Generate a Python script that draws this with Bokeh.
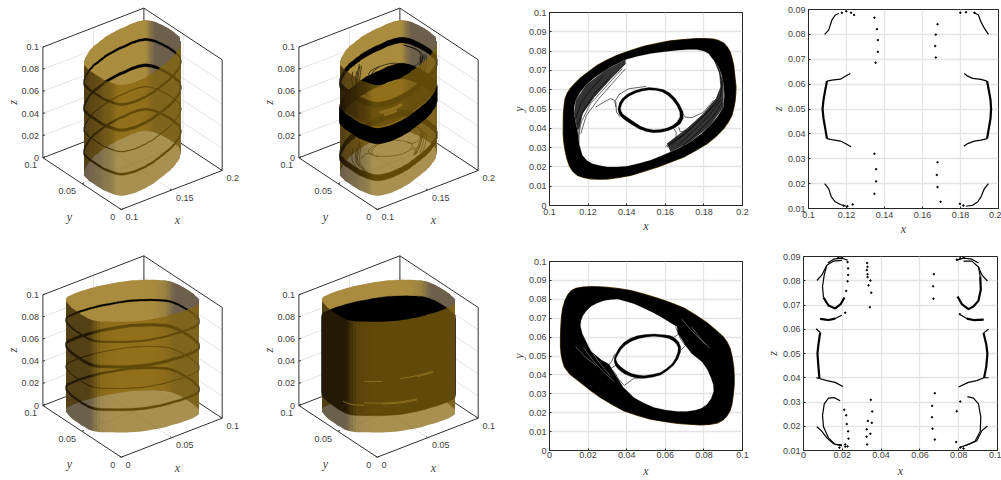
import numpy as np
from bokeh.plotting import figure
from bokeh.layouts import column, row
from bokeh.models import Range1d, FixedTicker
from bokeh.core.properties import value
from bokeh.embed import file_html
from bokeh.resources import INLINE

# ---- contours ----
a_outer_x = [.1071,.1072,.1076,.1081,.1092,.1107,.1133,.1162,.1205,.1248,.1298,.1351,.142,.1489,.1558,.1627,.1695,.1764,.181,.185,.1878,.1902,.1921,.1936,.1946,.1954,.196,.1966,.1965,.1962,.1955,.1945,.1926,.1902,.1862,.1816,.1757,.1696,.1627,.1558,.1489,.142,.136,.13,.1255,.1213,.1177,.1145,.112,.1102,.109,.1081,.1074]
a_outer_y = [.0372,.0476,.0518,.0554,.0581,.0605,.0634,.0662,.0695,.0727,.0754,.0778,.0803,.0825,.084,.0853,.086,.0865,.0865,.0862,.0854,.0842,.0821,.0795,.0762,.0727,.0672,.0615,.058,.0545,.0506,.0467,.0432,.0398,.0357,.032,.0285,.0251,.0225,.0199,.0177,.0156,.0145,.0137,.0136,.0138,.0145,.0156,.0178,.0208,.0245,.0285,.033]
a_hole_x = [.1153,.1145,.1135,.1127,.1128,.1136,.1158,.1188,.1232,.1282,.1335,.1394,.1456,.1523,.1592,.1661,.1715,.1764,.18,.1824,.1852,.1876,.1892,.1902,.1906,.1902,.187,.1833,.1785,.173,.168,.1627,.1575,.1523,.1463,.1403,.135,.1299,.1258,.1222,.1192,.117]
a_hole_y = [.032,.0389,.0432,.0476,.0512,.0545,.0585,.0623,.0662,.0697,.0727,.0756,.0773,.0787,.0797,.0804,.0808,.0808,.08,.0787,.0755,.0718,.0675,.0631,.057,.051,.046,.0415,.0371,.0329,.0302,.0277,.0255,.0234,.0218,.0204,.0199,.0199,.0207,.0216,.0234,.026]
a_fan_x = [[.1145,.1127,.1136,.1188,.1282,.1394,.1394,.1317,.1231,.117,.1153],[.1824,.1876,.1902,.1902,.1833,.173,.1627,.1609,.1713,.1799,.1864,.1888,.1881,.185]]
a_fan_y = [[.0389,.0476,.0545,.0623,.0697,.0756,.0735,.0657,.0562,.0476,.0398],[.0787,.0718,.0631,.051,.0415,.0329,.0277,.032,.0398,.0476,.0554,.0614,.0692,.077]]
a_ring_out_x = [.1355,.1362,.1377,.1403,.1437,.1475,.1515,.1555,.1592,.1625,.1652,.1675,.1692,.1693,.1678,.1652,.1618,.158,.154,.15,.1463,.1428,.1394,.1378,.1365,.1357]
a_ring_out_y = [.0502,.0531,.0554,.0576,.0593,.0605,.0611,.0608,.06,.0581,.0554,.0521,.0484,.0452,.0424,.0404,.0389,.038,.0377,.0384,.0398,.0418,.0441,.0454,.0467,.0485]
a_ring_in_x = [.1368,.1375,.1389,.1414,.1446,.148,.1515,.155,.1583,.1613,.164,.1661,.1675,.1676,.1661,.1638,.1609,.1575,.154,.1505,.1472,.1438,.1406,.1391,.1379,.1371]
a_ring_in_y = [.0502,.0527,.0548,.0568,.0583,.0593,.0599,.0597,.059,.0571,.0545,.0516,.0484,.0458,.0433,.0414,.0401,.0394,.0391,.0398,.041,.0432,.0455,.0465,.0476,.0489]
a_fil_x = [
 [.1153,.1153,.117,.1231,.1317,.1394],[.1145,.1165,.1213,.1299,.1377],[.1162,.1191,.1256,.1325,.1394],
 [.1145,.1179,.1231,.1308],[.1135,.1162,.1205,.1282],[.1239,.1282,.1317,.1337,.1344],
 [.185,.1881,.1888,.1864,.1799,.1713,.1609],[.1855,.1895,.1885,.181,.173,.163],[.189,.183,.175,.166],
 [.1895,.185,.177,.168],[.1865,.178,.17,.16],[.1678,.1704,.1738,.1799,.185],[.1644,.1656,.1656,.1609],
 [.1669,.1678,.1713],[.1343,.136,.141,.15],[.1343,.1347,.1365]]
a_fil_y = [
 [.032,.0398,.0476,.0562,.0657,.0735],[.0337,.0433,.0528,.0623,.0709],[.0372,.0467,.0554,.0632,.0709],
 [.0415,.05,.0575,.066],[.045,.0527,.059,.0675],[.051,.0536,.0554,.0545,.051],
 [.077,.0692,.0614,.0554,.0476,.0398,.032],[.0751,.065,.056,.0475,.0395,.0312],[.055,.047,.039,.0305],
 [.0535,.0465,.038,.0298],[.053,.0445,.037,.0305],[.0493,.0458,.0455,.0484,.0545],[.0398,.0381,.0346,.0303],
 [.0407,.0381,.0389],[.0545,.0575,.0605,.0617],[.0545,.0484,.046]]

b_outer_x = [.0057,.0057,.006,.0067,.0077,.0105,.0155,.0208,.0266,.0325,.0387,.0455,.0524,.0593,.0662,.0722,.0782,.0828,.0868,.0897,.0919,.0935,.0945,.0952,.0957,.0957,.0954,.0947,.0936,.0921,.0902,.0862,.0816,.0758,.0696,.0628,.0558,.049,.0421,.036,.0301,.0258,.0215,.0174,.0137,.0112,.0095,.008,.0069,.0063,.006,.0058]
b_outer_y = [.0599,.0555,.0512,.0476,.0443,.0405,.0365,.0322,.0279,.0243,.0209,.0186,.0166,.0154,.0144,.0139,.0135,.0138,.0145,.016,.0183,.021,.0244,.0295,.0348,.0395,.0443,.0492,.0538,.0572,.0599,.0636,.0676,.0715,.0754,.0782,.0806,.0827,.0846,.0856,.0863,.0866,.0867,.0865,.0858,.0845,.0824,.0792,.0754,.0715,.0676,.0637]
b_hole_x = [.016,.0163,.0172,.019,.0215,.0248,.0284,.0318,.0352,.0395,.0438,.049,.0541,.0585,.0627,.0662,.0665,.0685,.0705,.0735,.0762,.079,.0818,.0838,.0849,.0851,.0838,.0816,.0788,.0756,.071,.0662,.06,.0541,.0488,.0438,.0378,.0352,.0309,.027,.0215,.0189,.017]
b_hole_y = [.0659,.0687,.0711,.0738,.0763,.0781,.0794,.0799,.0801,.079,.0777,.0753,.0728,.0703,.0676,.0655,.062,.059,.0555,.0515,.0492,.0469,.0429,.0382,.0348,.0313,.0275,.0244,.0224,.0213,.0206,.0206,.0214,.0227,.0251,.0279,.0339,.0382,.0455,.0478,.0525,.0578,.0618]
b_ring_out_x = [.0344,.0362,.0387,.0418,.0455,.0498,.0541,.0587,.0627,.0652,.067,.068,.0679,.0666,.0644,.0613,.0576,.0533,.049,.0453,.0421,.0388,.0361,.0343,.0335,.0336]
b_ring_out_y = [.0512,.0545,.0573,.0593,.0607,.0614,.0616,.0613,.0607,.0592,.0573,.0548,.0521,.0486,.0452,.0424,.04,.0388,.0382,.0384,.0391,.0406,.0426,.0447,.0469,.0491]
b_ring_in_x = [.0352,.037,.0395,.0427,.0464,.0502,.0541,.0582,.0619,.0642,.0658,.0667,.0665,.0654,.0636,.0608,.0576,.0533,.049,.0456,.0424,.0395,.0369,.0353,.0345,.0345]
b_ring_in_y = [.0503,.0534,.0559,.0579,.0593,.0601,.0604,.0601,.0593,.0579,.0564,.0544,.0521,.049,.046,.0435,.0413,.0402,.0396,.0399,.0408,.0423,.0443,.046,.0478,.049]
b_fil_x = [
 [.0206,.0266,.0309,.0323,.0338],[.0223,.0284,.0335,.0361,.0387,.0438,.0507],[.0215,.0301,.0352,.0378],[.0232,.0318,.0344,.0369],
 [.0662,.067,.0644,.0593],[.0653,.0679,.0704,.0679],[.0679,.0713,.079],[.0696,.0739,.0816]]
b_fil_y = [
 [.0529,.0478,.0455,.0472,.0512],[.0512,.0455,.0417,.0374,.0344,.0382,.0386],[.0503,.0426,.0382,.0339],[.0503,.0434,.0451,.0426],
 [.0663,.0616,.0599,.0611],[.0656,.059,.0555,.0529],[.0651,.059,.0512],[.0642,.0573,.0495]]
b_streak_x = [[.0175,.023,.029,.0335],[.0195,.025,.0315],[.0735,.0785,.083],[.0685,.0745,.081],[.0135,.019,.024]]
b_streak_y = [[.0545,.047,.0405,.0365],[.0565,.0475,.0395],[.0655,.059,.054],[.0695,.0625,.056],[.055,.049,.045]]

# ---- xz section points, upper panel ----
c_line_x = [[.1085,.1106,.1123,.1141,.1159],[.1097,.1123,.1168,.1194,.122],[.1097,.1123,.1168,.1194,.1224],
 [.1085,.1106,.112,.1141,.1168,.1199],[.1908,.1926,.1947],[.1908,.1894,.1873],[.194,.1908,.1864,.1838,.182],[.194,.1908,.1873,.1838,.1817],
 [.1947,.1926,.1908,.1891,.1864,.1829]]
c_line_z = [[.08,.0817,.0857,.0878,.0884],[.0612,.0616,.062,.0632,.0643],[.0381,.0377,.0371,.0361,.0348],
 [.02,.018,.0147,.0127,.0116,.0109],[.085,.0824,.08],[.085,.0878,.0887],[.0612,.0619,.0623,.0632,.0643],[.0381,.0375,.0371,.0361,.035],
 [.02,.018,.0147,.0127,.0113,.0109]]
c_thick_x = [[.1097,.1088,.1079,.1074,.1079,.1088,.1097],[.194,.1949,.1958,.1961,.1958,.1949,.194]]
c_thick_z = [[.0612,.0576,.0536,.0501,.0462,.0422,.0381],[.0612,.0576,.0536,.0501,.0462,.0422,.0381]]
c_dot_x = [.1176,.1199,.1224,.124,.1347,.136,.1365,.1365,.1353,.1347,.1356,.1356,.1347,.1679,.167,.1667,.167,.1679,.1675,.1679,.1695,.1799,.1829,.1873,.1233,.1797,.1815,.1205,.1185]
c_dot_z = [.0887,.0893,.0887,.0878,.0867,.0821,.0777,.073,.0686,.032,.0258,.0209,.0159,.0841,.0799,.0753,.0707,.0286,.0235,.0186,.0127,.0887,.0889,.0887,.0116,.0119,.0112,.0109,.0111]

# ---- xz section points, lower panel ----
d_line_x = [[.0069,.0095,.012,.0155,.0198],[.012,.0107,.0098,.0103],[.0086,.0129,.0163,.0198],[.0065,.0086],[.012,.0163,.0203],
 [.0069,.0095,.012,.0155,.0198],[.0158,.0129,.0107,.0098,.0103,.0129,.0163,.0198],[.0948,.0919,.0902,.0868,.0825],[.0902,.0911],
 [.0928,.0876,.0842,.0808],[.0954,.0928],[.0893,.085,.0799],[.0948,.0919,.0893,.085,.0804],[.0845,.0876,.0902,.0914,.0911,.0885,.0842],[.0158,.0189],[.0082,.012],[.0931,.0893],[.0082,.0065],[.0931,.0954],
 [.0125,.0155,.0198,.0227],[.0902,.0868,.0825,.079]]
d_line_z = [[.0801,.0824,.0864,.0881,.0884],[.0864,.0824,.0777,.0731],[.0643,.0638,.0644,.0658],[.0602,.0587],[.0388,.0381,.0364],
 [.0198,.0179,.0152,.0128,.0119],[.0318,.0316,.0292,.0245,.0198,.0152,.0125,.0123],[.0799,.0824,.0857,.0881,.0881],[.0857,.0817],
 [.064,.0638,.0644,.066],[.06,.0585],[.0388,.0381,.0362],[.0201,.0181,.0139,.0125,.0112],[.0322,.0316,.0292,.0238,.0179,.0139,.0123],[.0318,.0305],[.0397,.0388],[.04,.0388],[.0397,.04],[.04,.04],
 [.0873,.0889,.0893,.0885],[.0873,.0889,.0893,.0885]]
d_thick_x = [[.0103,.0129,.0163,.0192,.0211],[.0086,.0129,.0163],[.0086,.0077,.0072,.0077,.0082],[.0911,.0914,.0902,.0876,.085,.0816,.0794],[.0928,.0876,.0842],[.0928,.0942,.0948,.0942,.0931]]
d_thick_z = [[.0731,.0698,.0686,.0704,.0731],[.0643,.0638,.0644],[.0587,.0538,.05,.0445,.0397],[.0817,.0764,.0718,.0694,.0683,.0704,.0735],[.064,.0638,.0644],[.0585,.0538,.05,.0445,.04]]
d_dot_x = [.0227,.023,.023,.0227,.022,.018,.0198,.0215,.021,.022,.0223,.023,.0232,.0215,.0227,.0185,.0328,.033,.0326,.033,.033,.0345,.0335,.0349,.0342,.0347,.0354,.0332,.0352,.0326,.0345,.0325,.0328,.0672,.0668,.067,.0677,.0663,.0662,.0665,.0677,.079,.0808,.0825,.0808,.079,.0787,.0808,.0825,.0215,.0806]
d_dot_z = [.0877,.0851,.0824,.0798,.0758,.0895,.0895,.0668,.0268,.0245,.0209,.0179,.0149,.0125,.0117,.0112,.0873,.0857,.0844,.0827,.0815,.0801,.0781,.0751,.0691,.0309,.0261,.0222,.0214,.0187,.0169,.0157,.0125,.0827,.0777,.0726,.0336,.0284,.0237,.019,.0145,.0887,.0893,.0895,.0302,.0262,.0135,.0112,.0108,.0116,.0662]

# ---- 3D rings: z_low, z_high, where ----
rings_top_left = [(.0815,.0835,"both"),(.058,.0605,"both"),(.0395,.0402,"both"),(.0185,.0205,"both")]
rings_top_mid = [(.0795,.0845,"both"),(.047,.061,"both"),(.047,.061,"over"),(.0625,.081,"front"),(.0135,.019,"both")]
rings_bot_left = [(.081,.0825,"both"),(.058,.0605,"both"),(.0395,.040,"both"),(.0195,.0215,"both")]
rings_bot_mid = [(.015,.0855,"both")]
thin_z_top_mid = [.083,.0135]
slivers_bot_mid = [(6,12,.0265,1.0),(8,12,.0255,1.0),(6,8,.046,1.0),(10,14,.0475,1.0),(2,6,.0245,1.0),(12,14,.0465,1.0)]
patch_top_mid = [(42,47,.0755,3.0),(43,46,.0725,3.0)]

z_ticks = [0,.02,.04,.06,.08,.1]
z_labels = ["0","0.02","0.04","0.06","0.08","0.1"]
xa_ticks = [.1,.15,.2]; xa_labels = ["0.1","0.15","0.2"]
xb_ticks = [0,.05,.1]; xb_labels = ["0","0.05","0.1"]
y3_ticks = [0,.05,.1]; y3_labels = ["0","0.05","0.1"]

y2_ticks = [0,.01,.02,.03,.04,.05,.06,.07,.08,.09,.1]
y2_labels = ["0","0.01","0.02","0.03","0.04","0.05","0.06","0.07","0.08","0.09","0.1"]
xa2_ticks = [.1,.12,.14,.16,.18,.2]; xa2_labels = ["0.1","0.12","0.14","0.16","0.18","0.2"]
xb2_ticks = [0,.02,.04,.06,.08,.1]; xb2_labels = ["0","0.02","0.04","0.06","0.08","0.1"]
z2_ticks = [.01,.02,.03,.04,.05,.06,.07,.08,.09]
z2_labels = ["0.01","0.02","0.03","0.04","0.05","0.06","0.07","0.08","0.09"]

SANS = value("Liberation Sans"); SERIF = value("Liberation Serif")
TXT = "#404040"; BOX = "#303030"; GRID = "#e4e4e4"
AX, AY, BX, BY, CZ = 101.0, -39.0, -78.3, -51.7, 110.7

def mix(lo, hi, t):
    c = [int(round(l + (h - l) * t)) for l, h in zip(lo, hi)]
    return "#%02x%02x%02x" % tuple(c)

def tube3d(ox, oy, xlim, xticks, xlabels, ox_, oy_, rings, light, rect,
           thin=None, thin_z=(), gold=None):
    x0, y0, w, h = rect
    p = figure(width=w, height=h, output_backend="svg", toolbar_location=None,
               x_range=Range1d(x0, x0 + w), y_range=Range1d(y0 + h, y0),
               x_axis_type=None, y_axis_type=None, min_border=0,
               outline_line_color=None, frame_align=False)
    p.grid.visible = False
    dx = xlim[1] - xlim[0]
    def pr(x, y, z):
        u = (np.asarray(x, float) - xlim[0]) / dx
        v = np.asarray(y, float) / .1
        w_ = np.asarray(z, float) / .1
        return ox + AX * u + BX * v, oy + AY * u + BY * v - CZ * w_
    def seg(a, b, color, lw=1.0):
        sx, sy = pr([a[0], b[0]], [a[1], b[1]], [a[2], b[2]])
        p.line(sx, sy, line_color=color, line_width=lw)
    xa, xb = xlim
    for z in z_ticks[1:-1]:
        seg((xa, .1, z), (xb, .1, z), GRID); seg((xb, .1, z), (xb, 0, z), GRID)
    for t in xticks[1:-1]:
        seg((t, .1, 0), (t, .1, .1), GRID); seg((t, 0, 0), (t, .1, 0), GRID)
    for t in y3_ticks[1:-1]:
        seg((xb, t, 0), (xb, t, .1), GRID); seg((xa, t, 0), (xb, t, 0), GRID)
    for a, b in [((xa,.1,0),(xa,.1,.1)),((xa,.1,.1),(xb,.1,.1)),((xb,.1,.1),(xb,0,.1)),((xb,0,.1),(xb,0,0)),
                 ((xb,.1,0),(xb,.1,.1)),((xa,.1,0),(xb,.1,0)),((xb,.1,0),(xb,0,0)),
                 ((xa,.1,0),(xa,0,0)),((xa,0,0),(xb,0,0))]:
        seg(a, b, BOX, 1.0)
    for z in z_ticks:
        seg((xa,.1,z), (xa + dx * .02,.1,z), BOX)
    for t in xticks:
        seg((t,0,0), (t,.002,0), BOX)
    for t in y3_ticks:
        seg((xa,t,0), (xa + dx * .02,t,0), BOX)
    sx, sy = pr(xticks, [0]*3, [0]*3)
    p.text(list(sx + 4.3), list(sy + 7.5), text=xlabels, text_font=SANS, text_font_size="9px", text_color=TXT, text_align="left", text_baseline="middle")
    sx, sy = pr([xa]*3, y3_ticks, [0]*3)
    p.text(list(sx - 6), list(sy + 7.5), text=y3_labels, text_font=SANS, text_font_size="9px", text_color=TXT, text_align="right", text_baseline="middle")
    sx, sy = pr([xa]*6, [.1]*6, z_ticks)
    p.text(list(sx - 4), list(sy), text=z_labels, text_font=SANS, text_font_size="9px", text_color=TXT, text_align="right", text_baseline="middle")
    sx, sy = pr([(xa+xb)/2], [0], [0])
    p.text([sx[0] + 5.7], [sy[0] + 30], text=["x"], text_font=SERIF, text_font_style="italic", text_font_size="12px", text_color=TXT, text_align="center", text_baseline="middle")
    sx, sy = pr([xa], [.05], [0])
    p.text([sx[0] - 12.7], [sy[0] + 33], text=["y"], text_font=SERIF, text_font_style="italic", text_font_size="12px", text_color=TXT, text_align="center", text_baseline="middle")
    sx, sy = pr([xa], [.1], [.05])
    p.text([sx[0] - 30], [sy[0]], text=["z"], angle=np.pi/2, text_font=SERIF, text_font_style="italic", text_font_size="12px", text_color=TXT, text_align="center", text_baseline="middle")
    X = np.array(ox_); Y = np.array(oy_); n = len(X)
    area = np.sum(X * np.roll(Y, -1) - np.roll(X, -1) * Y)
    sgn = 1 if area > 0 else -1
    tx = np.roll(X, -1) - X; ty = np.roll(Y, -1) - Y
    nx = sgn * ty; ny = -sgn * tx
    L = np.hypot(nx, ny); nx /= L; ny /= L
    vnx = nx + np.roll(nx, 1); vny = ny + np.roll(ny, 1)
    L = np.hypot(vnx, vny); vnx /= L; vny /= L
    cx, cy = BX / .1, -(AX / dx)
    cn = np.hypot(cx, cy); cx /= cn; cy /= cn
    SUB = 2
    fq = []
    for i in range(n):
        j = (i + 1) % n
        for s in range(SUB):
            f0, f1 = s / SUB, (s + 1) / SUB
            ax, ay = X[i] + tx[i] * f0, Y[i] + ty[i] * f0
            bx, by = X[i] + tx[i] * f1, Y[i] + ty[i] * f1
            fm = (f0 + f1) / 2
            mx = vnx[i] * (1 - fm) + vnx[j] * fm; my = vny[i] * (1 - fm) + vny[j] * fm
            m = np.hypot(mx, my); mx /= m; my /= m
            front = (nx[i] * cx + ny[i] * cy) > 0
            l = light[0] if front else light[1]
            t = max(0.0, mx * l[0] + my * l[1])
            fq.append((ax, ay, bx, by, t, front))
    def quads(sel, z1, z2):
        xs, ys = [], []
        for q in sel:
            s1x, s1y = pr([q[0], q[2], q[2], q[0]], [q[1], q[3], q[3], q[1]], [z1, z1, z2, z2])
            xs.append(list(np.round(s1x) - 0.5)); ys.append(list(s1y))
        return xs, ys
    back = [q for q in fq if not q[5]]
    frnt = [q for q in fq if q[5]]
    gam = lambda t: min(1.0, t * 1.6) ** 0.9
    xs, ys = quads(back, 0, .1)
    p.patches(xs, ys, fill_color=[mix((108,96,76),(170,140,62),gam(q[4])) for q in back], line_color=None)
    for z1, z2, where in rings:
        if where == "both":
            xs, ys = quads(fq, z1, z2)
            p.patches(xs, ys, fill_color="black", line_color="black", line_width=0.3)
        elif where == "front":
            xs, ys = quads(frnt, z1, z2)
            p.patches(xs, ys, fill_color="black", fill_alpha=0.75, line_color=None)
    if thin:
        for z in thin_z:
            for fx, fy in zip(*thin):
                sx, sy = pr(fx, fy, [z] * len(fx))
                p.line(sx, sy, line_color="black", line_width=0.6)
    xs, ys = quads(frnt, 0, .1)
    p.patches(xs, ys, fill_color=[mix((50,35,5),(134,101,12),gam(q[4])) for q in frnt], fill_alpha=0.72, line_color=None)
    for z1, z2, where in rings:
        if where == "over":
            xs, ys = quads(frnt, z1, z2)
            p.patches(xs, ys, fill_color="black", line_color="black", line_width=0.3)
    if gold:
        for a, b, z, lw in gold:
            sx, sy = pr(X[a:b+1], Y[a:b+1], [z] * (b - a + 1))
            p.line(sx, sy, line_color="#8f7220", line_width=lw, line_alpha=0.9)
    return p

def base2d(rect, border, xr, yr, xt, xl, yt, yl, xname, yname, standoff):
    w, h = rect
    p = figure(width=w, height=h, output_backend="svg", toolbar_location=None,
               x_range=Range1d(*xr), y_range=Range1d(*yr),
               min_border_left=border[0], min_border_right=border[1],
               min_border_top=border[2], min_border_bottom=border[3], frame_align=False,
               outline_line_color="#262626", outline_line_width=1, x_axis_label=xname, y_axis_label=yname)
    p.xaxis.ticker = FixedTicker(ticks=xt)
    p.xaxis.major_label_overrides = dict(zip(xt, xl))
    p.yaxis.ticker = FixedTicker(ticks=yt)
    p.yaxis.major_label_overrides = dict(zip(yt, yl))
    for ax, st, ts in ((p.xaxis[0], standoff[0], standoff[2]), (p.yaxis[0], standoff[1], 3)):
        ax.major_tick_in = 2; ax.major_tick_out = 0; ax.minor_tick_line_color = None
        ax.major_label_text_font = "Liberation Sans"; ax.major_label_text_font_size = "9px"
        ax.major_label_text_color = TXT; ax.axis_line_color = "#262626"; ax.major_tick_line_color = "#262626"
        ax.major_label_standoff = ts
        ax.axis_label_text_font = "Liberation Serif"; ax.axis_label_text_font_style = "italic"
        ax.axis_label_text_font_size = "12px"; ax.axis_label_text_color = TXT; ax.axis_label_standoff = st
    p.grid.grid_line_color = GRID; p.grid.grid_line_width = 1.3
    p.xgrid.ticker = FixedTicker(ticks=xt); p.ygrid.ticker = FixedTicker(ticks=yt)
    return p

def poincare(rect, border, xr, yr, xt, xl, standoff, outer, hole, r_out, r_in, fil, streak=None, fan=None):
    p = base2d(rect, border, xr, yr, xt, xl, y2_ticks, y2_labels, "x", "y", standoff)
    p.patch(outer[0], outer[1], fill_color=None, line_color="#6b5518", line_width=1.2)
    if fan:
        p.patches(fan[0], fan[1], fill_color="#333333", line_color=None)
    p.multi_polygons([[[outer[0], hole[0]]]], [[[outer[1], hole[1]]]], fill_color="black", line_color="black", line_width=0.2)
    p.multi_polygons([[[r_out[0], r_in[0]]]], [[[r_out[1], r_in[1]]]], fill_color="black", line_color="black", line_width=0.3)
    p.multi_line(fil[0], fil[1], line_color="black", line_width=0.6)
    if streak:
        p.multi_line(streak[0], streak[1], line_color="#aaaaaa", line_width=0.5)
    return p

def section(rect, border, xr, yr, xt, xl, standoff, lines, thick, dots):
    p = base2d(rect, border, xr, yr, xt, xl, z2_ticks, z2_labels, "x", "z", standoff)
    p.multi_line(lines[0], lines[1], line_color="black", line_width=1.2)
    p.multi_line(thick[0], thick[1], line_color="black", line_width=2.2)
    p.scatter(dots[0], dots[1], size=1.5, color="black", marker="circle")
    return p

a_out = (a_outer_x, a_outer_y); a_h = (a_hole_x, a_hole_y)
b_out = (b_outer_x, b_outer_y); b_h = (b_hole_x, b_hole_y)
LA = ((-0.12, -0.99), (-0.3, 0.95)); LB = ((0.25, -0.97), (-0.25, 0.97))
XLA = (.1, .2); XLB = (0, .1)

p1 = tube3d(120.7, 209, XLA, xa_ticks, xa_labels, a_outer_x, a_outer_y, rings_top_left, LA, (0, 0, 256, 240))
p2 = tube3d(376.7, 209, XLA, xa_ticks, xa_labels, a_outer_x, a_outer_y, rings_top_mid, LA, (256, 0, 250, 240),
            thin=([a_ring_out_x] + a_fil_x, [a_ring_out_y] + a_fil_y), thin_z=thin_z_top_mid, gold=patch_top_mid)
p3 = poincare((246, 240), (43, 10, 12, 35), (.1, .2), (0, .1), xa2_ticks, xa2_labels, (1, 0, 3), a_out, a_h,
              (a_ring_out_x, a_ring_out_y), (a_ring_in_x, a_ring_in_y), (a_fil_x, a_fil_y), fan=(a_fan_x, a_fan_y))
p4 = section((249, 240), (56, 3, 9, 32), (.1, .2), (.01, .09), xa2_ticks, xa2_labels, (1, 0, 3),
             (c_line_x, c_line_z), (c_thick_x, c_thick_z), (c_dot_x, c_dot_z))
p5 = tube3d(120.7, 456.7, XLB, xb_ticks, xb_labels, b_outer_x, b_outer_y, rings_bot_left, LB, (0, 240, 256, 240))
p6 = tube3d(376.7, 456.7, XLB, xb_ticks, xb_labels, b_outer_x, b_outer_y, rings_bot_mid, LB, (256, 240, 250, 240), gold=slivers_bot_mid)
p7 = poincare((246, 240), (43, 10, 21, 30), (0, .1), (0, .1), xb2_ticks, xb2_labels, (3, 0, 1), b_out, b_h,
              (b_ring_out_x, b_ring_out_y), (b_ring_in_x, b_ring_in_y), (b_fil_x, b_fil_y), (b_streak_x, b_streak_y))
p8 = section((249, 240), (51, 4, 16, 30), (0, .1), (.01, .09), xb2_ticks, xb2_labels, (3, 0, 1),
             (d_line_x, d_line_z), (d_thick_x, d_thick_z), (d_dot_x, d_dot_z))

page = column(row(p1, p2, p3, p4, spacing=0), row(p5, p6, p7, p8, spacing=0), spacing=0)
open("out.html", "w").write(file_html(page, INLINE))
